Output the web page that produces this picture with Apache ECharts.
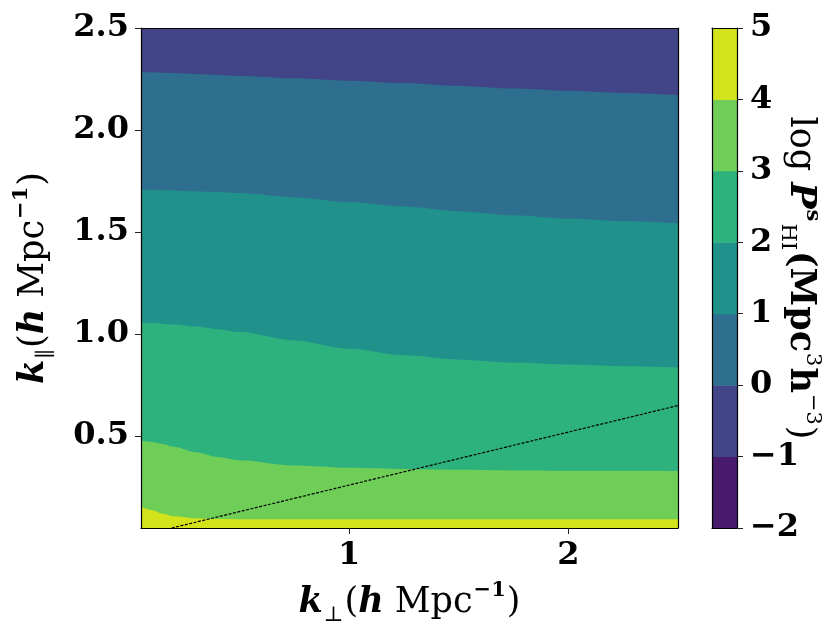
<!DOCTYPE html>
<html lang="en">
<head>
<meta charset="UTF-8" />
<title>log P_HI contour</title>
<script src="https://cdn.jsdelivr.net/npm/echarts@6/dist/echarts.min.js"></script>
<style>
  html, body { margin: 0; padding: 0; background: #fff; }
  #main { width: 831px; height: 643px; }
</style>
</head>
<body>
<div id="main"></div>
<script>
  // k_perp sample positions, and k_par of each contour line
  const kPerp = [0.05, 0.1, 0.15, 0.2, 0.3, 0.4, 0.5, 0.75, 1.0, 1.25, 1.5, 1.75, 2.0, 2.25, 2.5];
  const contour0 = [2.285, 2.283, 2.281, 2.279, 2.275, 2.270, 2.265, 2.254, 2.242, 2.230, 2.216, 2.203, 2.192, 2.182, 2.172];
  const contour1 = [1.707, 1.706, 1.705, 1.704, 1.700, 1.696, 1.691, 1.670, 1.647, 1.625, 1.602, 1.582, 1.566, 1.553, 1.543];
  const contour2 = [1.056, 1.054, 1.051, 1.047, 1.037, 1.024, 1.010, 0.969, 0.928, 0.896, 0.875, 0.861, 0.851, 0.843, 0.837];
  const contour3 = [0.477, 0.472, 0.462, 0.448, 0.421, 0.398, 0.382, 0.356, 0.345, 0.339, 0.335, 0.332, 0.331, 0.330, 0.329];
  const contour4 = [0.154, 0.137, 0.120, 0.107, 0.097, 0.094, 0.093, 0.093, 0.093, 0.093, 0.093, 0.093, 0.093, 0.093, 0.093];

  // colour levels and the viridis colour of each band between them
  const levels = [-2, -1, 0, 1, 2, 3, 4, 5];
  const bandColors = ['#481b6d', '#414487', '#2e6e8e', '#21918c', '#2db27d', '#6ece58', '#d2e21b'];

  // dashed wedge line
  const wedgeX = [0.19, 2.5];
  const wedgeY = [0.05, 0.65];

  const xTicks = [1, 2];
  const yTicks = [0.5, 1.0, 1.5, 2.0, 2.5];

  const serif = 'DejaVu Serif';
  const contours = [
    { level: 0, k: contour0 },
    { level: 1, k: contour1 },
    { level: 2, k: contour2 },
    { level: 3, k: contour3 },
    { level: 4, k: contour4 }
  ];

  const chart = echarts.init(document.getElementById('main'));

  const tickLabel = { fontFamily: serif, fontWeight: 'bold', fontSize: 32, color: '#000' };
  const nameRich = {
    bi: { fontFamily: serif, fontWeight: 'bold', fontStyle: 'italic', fontSize: 35, lineHeight: 46 },
    b: { fontFamily: serif, fontWeight: 'bold', fontSize: 35, lineHeight: 46 },
    r: { fontFamily: serif, fontSize: 35, lineHeight: 46 },
    sub: { fontFamily: serif, fontSize: 21, lineHeight: 46, verticalAlign: 'bottom', padding: [0, 1, 0, 1] },
    sup: { fontFamily: serif, fontWeight: 'bold', fontSize: 21, lineHeight: 46, verticalAlign: 'top', padding: [0, 1, 0, 1] },
    supr: { fontFamily: serif, fontSize: 21, lineHeight: 46, verticalAlign: 'top', padding: [0, 1, 0, 1] }
  };

  const series = contours.map(c => ({
    type: 'line',
    xAxisIndex: 0,
    yAxisIndex: 0,
    data: kPerp.map((x, i) => [x, c.k[i]]),
    smooth: 0.3,
    smoothMonotone: 'x',
    showSymbol: false,
    silent: true,
    lineStyle: { width: 0, opacity: 0 },
    areaStyle: { origin: 'start', opacity: 1, color: bandColors[levels.indexOf(c.level)] },
    z: 2
  }));

  series.push({
    type: 'line',
    xAxisIndex: 0,
    yAxisIndex: 0,
    data: wedgeX.map((x, i) => [x, wedgeY[i]]),
    showSymbol: false,
    silent: true,
    lineStyle: { color: '#000', width: 1.2, type: [3, 1.5] },
    z: 3
  });

  // colour bar: one rectangle per band, placed through the colour bar axes
  series.push({
    type: 'custom',
    xAxisIndex: 2,
    yAxisIndex: 2,
    data: levels.slice(0, -1).map((lo, i) => [lo, levels[i + 1], i]),
    silent: true,
    renderItem: (params, api) => {
      const p0 = api.coord([0, api.value(0)]);
      const p1 = api.coord([1, api.value(1)]);
      return {
        type: 'rect',
        shape: { x: p0[0], y: p1[1], width: p1[0] - p0[0], height: p0[1] - p1[1] + 0.5 },
        style: { fill: bandColors[api.value(2)] }
      };
    },
    z: 2
  });

  const frame = { show: true, onZero: false, lineStyle: { color: '#000', width: 1.2 } };
  const bare = { axisTick: { show: false }, axisLabel: { show: false }, splitLine: { show: false } };

  const option = {
    animation: false,
    grid: [
      { left: 141, top: 28, width: 537, height: 500, show: true, backgroundColor: bandColors[1], borderWidth: 0, outerBoundsMode: 'none' },
      { left: 712, top: 28, width: 25, height: 500, show: false, outerBoundsMode: 'none' }
    ],
    xAxis: [
      {
        gridIndex: 0, type: 'value', min: 0.05, max: 2.5, z: 5,
        axisLine: frame,
        axisTick: { show: true, inside: false, length: 6, customValues: xTicks, lineStyle: { color: '#222', width: 1 } },
        axisLabel: { customValues: xTicks, margin: 12, formatter: v => String(v), ...tickLabel },
        splitLine: { show: false },
        name: '{bi|k}{sub|⊥}{r|(}{bi|h}{r| Mpc}{sup|−1}{r|)}',
        nameLocation: 'middle',
        nameGap: 52,
        nameMoveOverlap: false,
        nameTextStyle: { rich: nameRich }
      },
      { gridIndex: 0, type: 'value', min: 0.05, max: 2.5, position: 'top', z: 5, axisLine: frame, ...bare },
      { gridIndex: 1, type: 'value', min: 0, max: 1, position: 'bottom', z: 5, axisLine: frame, ...bare },
      { gridIndex: 1, type: 'value', min: 0, max: 1, position: 'top', z: 5, axisLine: frame, ...bare }
    ],
    yAxis: [
      {
        gridIndex: 0, type: 'value', min: 0.05, max: 2.5, z: 5,
        axisLine: frame,
        axisTick: { show: true, inside: false, length: 6, customValues: yTicks, lineStyle: { color: '#222', width: 1 } },
        axisLabel: { customValues: yTicks, margin: 12, formatter: v => v.toFixed(1), ...tickLabel },
        splitLine: { show: false },
        name: '{bi|k}{sub|∥}{r|(}{bi|h}{r| Mpc}{sup|−1}{r|)}',
        nameLocation: 'middle',
        nameRotate: 90,
        nameGap: 84,
        nameMoveOverlap: false,
        nameTextStyle: { rich: nameRich }
      },
      { gridIndex: 0, type: 'value', min: 0.05, max: 2.5, position: 'right', z: 5, axisLine: frame, ...bare },
      {
        gridIndex: 1, type: 'value', min: -2, max: 5, interval: 1, position: 'right', z: 5,
        axisLine: frame,
        axisTick: { show: true, inside: false, length: 6, lineStyle: { color: '#222', width: 1 } },
        axisLabel: { margin: 13, formatter: v => String(v).replace('-', '−'), ...tickLabel },
        splitLine: { show: false },
        name: '{r|log }{bi|P}{sup|s}{sub|HI}{b|(Mpc}{supr|3}{b|h}{supr|−3}{r|)}',
        nameLocation: 'middle',
        nameRotate: -90,
        nameGap: 40,
        nameMoveOverlap: false,
        nameTextStyle: { rich: nameRich }
      },
      { gridIndex: 1, type: 'value', min: -2, max: 5, position: 'left', z: 5, axisLine: frame, ...bare }
    ],
    series: series
  };

  chart.setOption(option);
</script>
</body>
</html>
